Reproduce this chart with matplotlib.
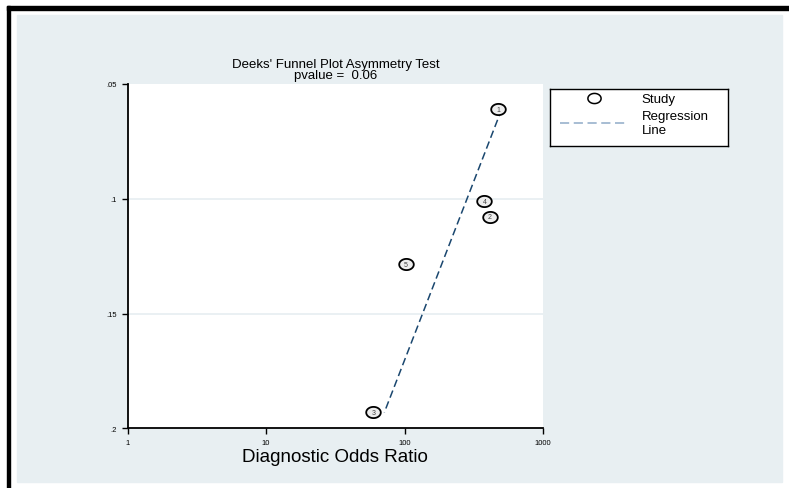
import numpy as np
import matplotlib
matplotlib.use("Agg")
import matplotlib.pyplot as plt
from matplotlib.path import Path
from matplotlib.lines import Line2D
from matplotlib.patches import Rectangle

plt.rcParams['font.family'] = ['Liberation Sans', 'DejaVu Sans']

# ---- data ----
study_ids = ["1", "2", "3", "4", "5"]
dor = [475, 414, 59.5, 377, 102.5]               # diagnostic odds ratio
inv_sqrt_ess = [0.0609, 0.1078, 0.1931, 0.101, 0.1286]  # 1/sqrt(ESS)
reg_intercept = 3.093    # log10(DOR) = intercept + slope * (1/sqrt(ESS))
reg_slope = -6.415
pvalue = 0.06
y_ticks = [0.05, 0.1, 0.15, 0.2]
y_ticklabels = [".05", ".1", ".15", ".2"]
x_ticks = [1, 10, 100, 1000]
x_ticklabels = ["1", "10", "100", "1000"]

W, H = 789, 489
fig = plt.figure(figsize=(W / 100, H / 100), dpi=100)

def fx(px):
    return px / W

def fy(py):
    return 1 - py / H

BG = '#e8eff2'
NAVY = '#1a476f'

# outer frame and background region
fig.patches.append(Rectangle((fx(7), fy(11)), fx(789) - fx(7), fy(7) - fy(11),
                             transform=fig.transFigure, color='black', zorder=-5))
fig.patches.append(Rectangle((fx(7), fy(489)), fx(3), fy(7) - fy(489),
                             transform=fig.transFigure, color='black', zorder=-5))
fig.patches.append(Rectangle((fx(17), fy(483)), fx(782) - fx(17), fy(16) - fy(483),
                             transform=fig.transFigure, color=BG, zorder=-5))

# ellipse marker (the original graph is stretched horizontally)
t = np.linspace(0, 2 * np.pi, 60)
ell = Path(np.column_stack([0.65 * np.cos(t), 0.5 * np.sin(t)]), closed=True)

ax = fig.add_axes([fx(127.5), fy(429.3), fx(543) - fx(127.5), fy(85) - fy(429.3)])
ax.set_facecolor('white')
ax.set_xscale('log')
ax.set_xlim(1, 1000)
ax.set_ylim(0.2, 0.05)

for yv in y_ticks[1:-1]:
    ax.axhline(yv, color=BG, lw=1.3, zorder=1)

# regression line
yr = np.array([min(inv_sqrt_ess), max(inv_sqrt_ess)])
xr = 10 ** (reg_intercept + reg_slope * yr)
ax.plot(xr, yr, color=NAVY, lw=1.1, dashes=(5, 2.6), zorder=2)

# studies
ax.plot(dor, inv_sqrt_ess, linestyle='none', marker=ell, markersize=10.5,
        markerfacecolor='#ededed', markeredgecolor='black', markeredgewidth=1.3, zorder=3)
for sid, xv, yv in zip(study_ids, dor, inv_sqrt_ess):
    ax.text(xv, yv, sid, fontsize=5, color='#444444', ha='center', va='center', zorder=4)

for s in ['top', 'right']:
    ax.spines[s].set_visible(False)
for s in ['left', 'bottom']:
    ax.spines[s].set_linewidth(1.3)
ax.set_yticks(y_ticks)
ax.set_yticklabels(y_ticklabels)
ax.set_xticks(x_ticks)
ax.set_xticklabels(x_ticklabels)
ax.xaxis.set_minor_locator(matplotlib.ticker.NullLocator())
ax.tick_params(axis='both', direction='out', length=4.5, width=1, labelsize=5.5, pad=3)
ax.set_xlabel("Diagnostic Odds Ratio", fontsize=13.5, labelpad=2)

# title
fig.text(fx(335.5), fy(65), "Deeks' Funnel Plot Asymmetry Test", fontsize=9.5,
         ha='center', va='center')
fig.text(fx(335.5), fy(76.5), "pvalue =  %.2f" % pvalue, fontsize=9.5,
         ha='center', va='center')

# legend box
lax = fig.add_axes([fx(550), fy(147), fx(728) - fx(550), fy(90) - fy(147)])
lax.set_facecolor('white')
lax.set_xticks([])
lax.set_yticks([])
for s in lax.spines.values():
    s.set_linewidth(1.0)
    s.set_color('black')
h_study = Line2D([], [], linestyle='none', marker=ell, markersize=9.5,
                 markerfacecolor='white', markeredgecolor='black', markeredgewidth=1.1)
h_reg = Line2D([], [], color='#8fabc8', lw=1.1, dashes=(6, 3))
lax.legend([h_study, h_reg], ["Study", "Regression\nLine"], loc='upper left',
           bbox_to_anchor=(0.055, 0.93), frameon=False, fontsize=9.5,
           handlelength=5.2, handletextpad=1.0, borderpad=0, borderaxespad=0,
           labelspacing=0.35)

fig.savefig("out.png", dpi=100)
